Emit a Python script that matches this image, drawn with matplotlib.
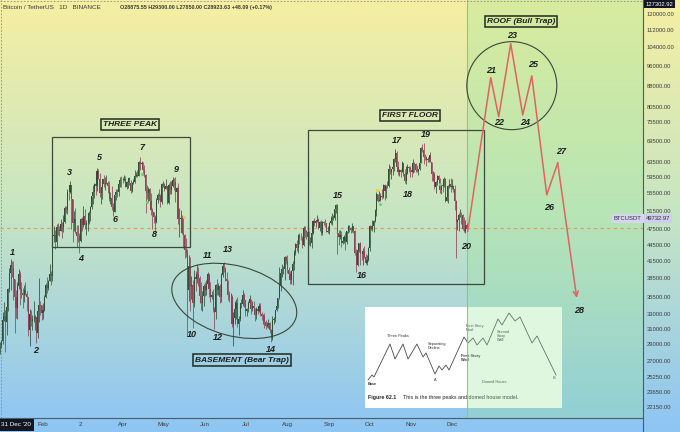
import numpy as np
import matplotlib
matplotlib.use("Agg")
import matplotlib.pyplot as plt
import matplotlib.transforms as mtransforms
from matplotlib.patches import Rectangle, Ellipse
from matplotlib.lines import Line2D
from matplotlib.colors import LinearSegmentedColormap
from matplotlib.ticker import NullLocator

plt.rcParams['font.family'] = ['Liberation Sans', 'DejaVu Sans']

# BTCUSDT daily candles, 31 Dec 2020 .. 12 Dec 2021 (prices in thousands)
# day index 0 = 31 Dec 2020, open of each day = previous close
first_open = 28.88
closes = [
    28.92,
    # Jan
    29.37, 32.13, 32.78, 31.97, 33.99, 36.82, 39.37, 40.80, 40.25, 38.36,
    35.57, 33.92, 37.32, 39.19, 36.83, 36.18, 35.79, 36.63, 36.07, 35.55,
    30.83, 33.01, 32.07, 32.29, 32.37, 32.57, 30.43, 33.47, 34.32, 34.27, 33.12,
    # Feb
    33.54, 35.51, 37.47, 36.93, 38.14, 39.27, 38.90, 46.20, 46.48, 44.92,
    47.97, 47.29, 47.15, 48.58, 47.91, 49.13, 52.12, 51.55, 55.91, 55.84,
    57.41, 54.09, 48.89, 49.68, 47.07, 46.28, 46.11, 45.14,
    # Mar
    49.59, 48.44, 50.35, 48.37, 48.75, 48.88, 50.97, 52.38, 54.88, 55.85,
    57.77, 57.22, 61.19, 58.97, 55.61, 56.90, 58.91, 57.65, 58.03, 58.10,
    57.35, 54.08, 54.34, 52.30, 51.29, 55.03, 55.82, 55.78, 57.64, 58.75, 58.74,
    # Apr
    58.72, 58.95, 57.05, 58.20, 59.13, 57.99, 55.95, 58.08, 58.14, 59.77,
    60.01, 59.86, 63.58, 62.96, 63.16, 61.33, 60.01, 56.15, 55.63, 56.43,
    53.79, 51.69, 51.13, 50.05, 49.01, 54.02, 55.03, 54.82, 53.56, 57.69,
    # May
    57.80, 56.58, 57.17, 53.20, 57.44, 56.39, 57.31, 58.86, 58.24, 55.82,
    56.67, 49.63, 49.67, 49.84, 46.76, 46.43, 43.54, 42.85, 36.69, 40.53,
    37.25, 37.45, 34.66, 38.80, 38.32, 39.24, 38.53, 35.66, 34.61, 35.64, 37.25,
    # Jun
    36.69, 37.57, 39.25, 36.83, 35.51, 35.80, 33.55, 33.38, 37.39, 36.69,
    37.31, 35.55, 39.02, 40.52, 40.14, 38.35, 38.09, 35.82, 35.48, 35.60,
    31.61, 32.51, 33.68, 34.66, 31.58, 32.28, 34.70, 34.49, 35.91, 35.05,
    # Jul
    33.50, 33.79, 34.67, 35.29, 33.69, 34.22, 33.86, 32.88, 33.82, 33.50,
    34.26, 33.09, 32.73, 32.82, 31.88, 31.38, 31.52, 31.78, 30.84, 29.79,
    32.14, 32.29, 33.63, 34.26, 35.41, 37.28, 39.46, 40.02, 40.02, 42.21, 41.46,
    # Aug
    39.85, 39.15, 38.21, 39.72, 40.87, 42.84, 44.61, 43.79, 46.29, 45.59,
    45.55, 44.43, 47.79, 47.10, 47.02, 45.94, 44.69, 44.74, 46.76, 49.34,
    48.91, 49.32, 49.55, 47.71, 48.99, 46.85, 49.08, 48.94, 48.82, 47.02, 47.17,
    # Sep
    48.85, 49.27, 49.94, 49.94, 51.76, 52.66, 46.86, 46.05, 46.40, 44.85,
    45.17, 46.03, 44.94, 47.11, 48.12, 47.74, 47.30, 48.29, 47.24, 42.84,
    40.69, 43.58, 44.90, 42.81, 42.67, 43.21, 42.24, 41.04, 41.57, 43.79,
    # Oct
    48.17, 47.64, 48.20, 49.23, 51.47, 55.32, 53.79, 53.95, 54.95, 54.66,
    57.47, 56.01, 57.37, 57.35, 61.67, 60.88, 61.53, 62.01, 64.28, 66.00,
    62.19, 60.69, 61.29, 60.85, 63.08, 60.33, 58.41, 60.58, 62.25, 61.86, 61.30,
    # Nov
    60.91, 63.22, 62.90, 61.40, 60.94, 61.47, 63.27, 67.53, 66.95, 64.88,
    64.77, 64.12, 64.38, 65.47, 63.56, 60.16, 60.37, 56.94, 58.12, 59.70,
    58.73, 56.29, 57.57, 57.16, 58.96, 53.73, 54.72, 57.27, 57.78, 56.95,
    # Dec
    57.18, 56.48, 53.60, 49.15, 49.40, 50.44, 50.59, 50.47, 47.55, 47.14,
    48.40, 47.60,
]
highs = [
    29.30,
    29.6, 33.3, 34.8, 33.6, 34.4, 36.9, 40.2, 41.9, 41.4, 41.4,
    38.3, 36.6, 37.9, 40.1, 39.8, 37.9, 36.9, 37.4, 37.9, 36.4,
    35.6, 33.8, 33.6, 32.9, 34.9, 32.9, 32.6, 33.8, 38.5, 34.9, 34.3,
    34.7, 35.9, 37.7, 38.7, 38.3, 40.9, 39.7, 46.8, 48.2, 47.3,
    48.6, 48.9, 48.3, 49.7, 49.0, 50.5, 52.6, 52.5, 56.4, 57.5,
    58.4, 57.5, 54.2, 51.4, 52.0, 48.4, 48.4, 46.7,
    49.8, 50.2, 52.6, 51.8, 49.5, 49.2, 51.5, 52.5, 54.9, 57.4,
    58.1, 58.0, 61.8, 61.6, 60.6, 56.9, 58.9, 60.1, 59.5, 59.9,
    58.6, 58.4, 55.9, 57.2, 53.3, 55.1, 56.6, 56.6, 58.4, 59.4, 59.8,
    59.5, 60.0, 59.8, 58.5, 59.3, 59.5, 58.7, 58.2, 58.9, 61.3,
    60.7, 61.2, 63.8, 64.9, 63.8, 63.6, 62.6, 60.4, 57.6, 57.1,
    56.8, 55.5, 52.1, 51.2, 50.6, 54.4, 55.5, 56.4, 55.2, 58.0,
    58.5, 57.9, 58.9, 57.2, 57.9, 58.4, 58.6, 59.5, 59.3, 59.6,
    56.9, 58.0, 52.0, 51.6, 50.6, 49.8, 46.6, 45.8, 43.6, 42.5,
    42.2, 38.9, 38.3, 39.9, 39.8, 40.9, 40.4, 38.9, 37.9, 36.5, 37.5,
    37.9, 38.2, 39.5, 39.3, 37.9, 36.5, 36.8, 34.1, 37.5, 38.4,
    37.7, 37.5, 39.4, 41.1, 41.3, 40.5, 39.6, 38.2, 36.4, 36.1,
    35.8, 33.3, 34.9, 35.3, 35.5, 32.7, 34.7, 35.3, 36.6, 36.1,
    35.0, 33.9, 34.9, 35.9, 35.3, 35.0, 35.0, 33.9, 34.1, 34.2,
    34.6, 34.7, 33.3, 33.1, 33.2, 32.2, 31.9, 32.4, 31.9, 31.0,
    32.8, 32.6, 33.6, 34.5, 35.4, 40.5, 39.5, 40.9, 40.6, 42.3, 42.4,
    42.6, 40.5, 39.8, 39.9, 41.4, 43.4, 44.8, 45.3, 46.5, 46.7,
    46.8, 46.2, 48.2, 48.2, 47.4, 48.1, 47.2, 46.0, 47.0, 49.4,
    49.8, 49.5, 50.5, 49.9, 49.2, 49.4, 49.2, 49.3, 49.6, 48.9, 48.3,
    49.0, 50.4, 51.0, 50.6, 51.9, 52.9, 52.9, 47.4, 47.3, 47.1,
    45.9, 46.4, 46.9, 47.2, 48.4, 48.5, 48.1, 48.8, 48.3, 47.3,
    43.6, 44.0, 44.9, 45.1, 42.9, 43.9, 44.3, 42.8, 42.6, 44.1,
    48.5, 48.3, 49.5, 49.5, 51.9, 55.8, 55.3, 56.1, 55.5, 56.6,
    57.8, 57.7, 57.6, 58.5, 62.9, 62.4, 61.7, 62.6, 64.5, 67.0,
    66.6, 63.7, 61.7, 61.5, 63.7, 63.3, 61.5, 62.5, 62.9, 62.3, 62.4,
    62.4, 64.3, 63.5, 63.1, 62.6, 61.6, 63.3, 67.8, 68.5, 69.0,
    65.6, 65.0, 64.9, 65.5, 66.3, 63.6, 61.0, 60.8, 58.4, 59.9,
    60.0, 59.3, 58.0, 57.9, 59.4, 59.2, 55.3, 57.4, 58.9, 59.2,
    59.0, 57.4, 57.6, 53.9, 49.7, 51.0, 51.9, 51.2, 50.8, 50.1,
    49.5, 48.9,
]
lows = [
    27.85,
    28.6, 29.0, 32.0, 28.1, 30.2, 33.4, 36.3, 36.6, 38.7, 35.1,
    30.4, 32.5, 32.4, 36.7, 34.4, 35.4, 33.9, 34.8, 35.8, 33.4,
    30.1, 28.8, 31.4, 30.9, 31.9, 30.8, 29.2, 29.8, 31.9, 32.9, 32.2,
    32.3, 33.4, 35.4, 36.2, 36.6, 38.1, 37.4, 38.1, 45.0, 43.7,
    44.1, 46.4, 46.2, 47.1, 45.8, 47.0, 48.9, 50.9, 50.7, 53.9,
    55.5, 47.6, 45.0, 47.2, 46.7, 44.1, 45.1, 43.0,
    45.0, 47.1, 48.1, 47.5, 46.3, 47.1, 48.6, 49.3, 51.8, 53.0,
    54.3, 55.0, 56.1, 58.9, 54.6, 53.1, 54.1, 57.0, 56.3, 57.8,
    55.5, 53.6, 53.0, 51.7, 50.4, 51.3, 53.9, 54.7, 54.9, 57.0, 56.9,
    57.9, 58.4, 56.9, 56.5, 56.8, 57.4, 55.5, 55.7, 57.7, 57.9,
    59.4, 59.4, 59.8, 61.3, 62.0, 60.0, 59.6, 51.0, 54.2, 53.4,
    53.6, 50.6, 47.5, 48.8, 47.0, 48.8, 53.2, 53.9, 52.4, 53.1,
    57.0, 56.0, 56.5, 53.0, 52.9, 55.2, 55.4, 56.9, 56.2, 53.4,
    54.4, 48.6, 46.0, 48.8, 46.6, 43.8, 42.1, 42.2, 30.0, 34.9,
    33.5, 35.2, 31.1, 34.0, 36.4, 37.8, 37.2, 34.7, 33.6, 33.4, 34.2,
    35.7, 35.9, 37.2, 35.6, 34.8, 35.3, 33.3, 31.0, 32.4, 35.8,
    35.9, 34.6, 34.8, 38.8, 39.5, 38.1, 37.4, 35.1, 34.8, 33.3,
    31.3, 28.8, 31.7, 32.3, 31.3, 30.2, 32.0, 33.9, 34.2, 34.0,
    32.7, 32.7, 33.3, 34.5, 33.1, 33.5, 33.7, 32.1, 32.3, 33.0,
    33.3, 32.7, 32.2, 31.6, 31.1, 31.0, 31.2, 31.1, 30.4, 29.3,
    29.5, 31.7, 31.9, 33.4, 33.9, 35.2, 36.4, 38.8, 39.2, 38.3, 41.0,
    39.4, 38.7, 37.6, 37.5, 37.4, 39.9, 42.5, 43.3, 42.9, 44.7,
    45.4, 43.8, 44.2, 45.9, 45.5, 45.7, 44.4, 44.2, 43.9, 46.6,
    48.3, 48.1, 49.0, 47.6, 47.2, 46.3, 46.4, 48.4, 48.0, 46.9, 46.7,
    46.5, 48.6, 48.4, 49.5, 49.4, 50.9, 42.8, 44.4, 45.5, 44.1,
    44.7, 44.8, 43.4, 44.7, 46.7, 47.0, 46.7, 47.0, 46.8, 42.5,
    39.6, 40.6, 43.1, 40.8, 41.7, 40.8, 42.1, 40.9, 40.8, 41.4,
    43.3, 47.4, 47.1, 46.9, 49.1, 50.4, 53.4, 53.6, 53.7, 54.1,
    54.4, 53.9, 54.3, 56.8, 56.9, 60.2, 58.9, 60.1, 61.1, 63.5,
    62.0, 60.0, 59.7, 59.5, 60.7, 59.8, 58.0, 57.8, 60.2, 60.7, 59.6,
    59.4, 60.6, 60.8, 60.7, 60.7, 60.1, 61.3, 63.3, 66.2, 62.8,
    64.1, 62.3, 63.6, 63.6, 63.4, 58.6, 58.4, 56.5, 55.6, 57.4,
    58.5, 55.6, 55.3, 55.9, 57.0, 53.5, 53.7, 53.3, 56.7, 55.9,
    56.5, 55.8, 51.7, 42.0, 47.3, 47.1, 50.1, 48.6, 47.3, 46.9,
    46.7, 47.2,
]

month_ticks = [32, 60, 91, 121, 152, 182, 213, 244, 274, 305, 335]
month_labels = ['Feb', '2', 'Apr', 'May', 'Jun', 'Jul', 'Aug', 'Sep', 'Oct', 'Nov', 'Dec']
price_ticks = [120000, 112000, 104000, 96000, 88000, 80500, 75500, 69500, 63500,
               59500, 55500, 51500, 47500, 44500, 41500, 38500, 35500, 33000,
               31000, 29000, 27000, 25250, 23650, 22150]
last_price = 49732.97
crosshair_price = 127302.92
hline_price = 47850

# wave count labels 1..28 (day index, price in thousands)
wave_x = [9.6, 26.7, 51.9, 60.0, 74.1, 85.2, 105.2, 114.8, 131.1, 142.2,
          154.1, 161.5, 168.9, 200.7, 250.4, 268.1, 294.1, 302.2, 315.6, 345.2,
          363.7, 369.6, 379.3, 388.9, 394.8, 406.7, 415.6, 428.9]
wave_y = [43.0, 28.2, 60.8, 41.9, 64.6, 49.5, 67.5, 46.4, 61.4, 30.2,
          42.4, 29.9, 43.5, 28.4, 54.9, 38.9, 69.5, 55.3, 71.4, 44.1,
          94.0, 75.1, 109.2, 75.1, 96.5, 52.3, 66.4, 33.6]

# projected path 20 -> 28
proj_x = [346.7, 363.7, 369.6, 378.5, 387.4, 394.1, 405.2, 413.3, 427.4]
proj_y = [47.2, 91.2, 77.1, 105.5, 77.7, 91.9, 55.1, 63.2, 35.4]

# indicator dots
yellow_x = [136.3, 279.3]
yellow_y = [50.1, 56.3]
green_x = [105.0, 109.4, 281.5, 326.0]
green_y = [60.4, 53.5, 53.0, 57.8]

# the "three peaks and domed house" sketch (own units, 197 x 101)
inset_x = [3, 7, 9, 25, 30, 38, 43, 52, 58, 61, 70, 74, 77, 81, 84, 99, 103,
           108, 112, 118, 122, 133, 137, 144, 150, 155, 167, 172, 191]
inset_y = [28, 33, 31, 64, 49, 64, 49, 64, 51, 55, 34, 42, 38, 43, 38, 71, 65,
           70, 63, 70, 63, 89, 83, 95, 87, 91, 65, 72, 33]

UP = '#2f4f37'
DOWN = '#8e4358'
RED = '#e2625f'
INK = '#1c1f1c'

fig = plt.figure(figsize=(6.8, 4.32), dpi=100)

# gradient backdrop
bg = fig.add_axes([0, 0, 1, 1], zorder=-1)
cmap = LinearSegmentedColormap.from_list('tv', ['#f5efa2', '#c6e5c4', '#8dc5f4'])
bg.imshow(np.linspace(0, 1, 256).reshape(-1, 1), aspect='auto', cmap=cmap,
          extent=[0, 1, 0, 1])
bg.axis('off')

ax = fig.add_axes([0, 14 / 432, 643 / 680, 418 / 432])
ax.set_facecolor('none')
ax.set_yscale('log')
ax.set_xlim(0.14, 476.5)
ax.set_ylim(21130, crosshair_price)

# candles
c = np.array(closes) * 1000
o = np.concatenate([[first_open], closes[:-1]]) * 1000
h = np.maximum(np.array(highs) * 1000, np.maximum(o, c))
l = np.minimum(np.array(lows) * 1000, np.minimum(o, c))
days = np.arange(len(c))
col = np.where(c >= o, UP, DOWN)
ax.vlines(days, l, h, colors=col, lw=0.55, zorder=3)
ax.bar(days, np.abs(c - o), bottom=np.minimum(o, c), width=0.8, color=col,
       lw=0, zorder=3)
ax.scatter(yellow_x, np.array(yellow_y) * 1000, s=5, color='#f2c744', zorder=4, lw=0)
ax.scatter(green_x, np.array(green_y) * 1000, s=5, color='#6fd36f', zorder=4, lw=0)

# green future zone
ax.axvspan(proj_x[0] - 0.6, 476.5, color='#96e596', alpha=0.3, lw=0, zorder=1.5)
ax.axvline(proj_x[0] - 0.6, color='#7fcf7f', lw=0.8, zorder=1.6)

# current price line
ax.axhline(hline_price, color='#e59a55', lw=0.8, ls=(0, (3, 3)), zorder=2)

# crosshair at top-left
ax.plot([0, 1], [0.997, 0.997], transform=ax.transAxes, color='#8c8c8c',
        lw=0.6, ls=(0, (2, 2)), zorder=2)
ax.plot([0.002, 0.002], [0, 1], transform=ax.transAxes, color='#8c8c8c',
        lw=0.6, ls=(0, (2, 2)), zorder=2)

# zone boxes
box_kw = dict(fill=False, ec='#3b4a3d', lw=0.9, zorder=4)
ax.add_patch(Rectangle((38.5, 44100), 140.7 - 38.5, 70700 - 44100, **box_kw))
ax.add_patch(Rectangle((228, 37600), 359 - 228, 72900 - 37600, **box_kw))

disp = mtransforms.IdentityTransform()
ell_kw = dict(fill=False, ec='#3b463b', lw=0.8, zorder=4, transform=disp)
ax.add_patch(Ellipse(ax.transData.transform((173.7, 34950)), 128, 70, angle=-15, **ell_kw))
ax.add_patch(Ellipse(ax.transData.transform((379.3, 88100)), 90, 88, angle=0, **ell_kw))

tag_kw = dict(ha='center', va='center', fontsize=6, fontweight='bold',
              fontstyle='italic', color=INK, zorder=6,
              bbox=dict(boxstyle='square,pad=0.25', fc='none', ec='#1f2b20', lw=1.1))
ax.text(96.3, 74500, 'THREE PEAK', **tag_kw)
ax.text(179.3, 27100, 'BASEMENT (Bear Trap)', **tag_kw)
ax.text(303.7, 77500, 'FIRST FLOOR', **tag_kw)
ax.text(386.0, 115900, 'ROOF (Bull Trap)', **tag_kw)

for i, (x, y) in enumerate(zip(wave_x, wave_y)):
    ax.text(x, y * 1000, str(i + 1), ha='center', va='center', fontsize=6.5,
            fontweight='bold', fontstyle='italic', color=INK, zorder=6)

# projection path
ax.plot(proj_x[:-1], np.array(proj_y[:-1]) * 1000, color=RED, lw=1.1, zorder=5)
ax.annotate('', xy=(proj_x[-1], proj_y[-1] * 1000),
            xytext=(proj_x[-2], proj_y[-2] * 1000),
            arrowprops=dict(arrowstyle='->', color=RED, lw=1.1, shrinkA=0,
                            shrinkB=0, mutation_scale=9), zorder=5)

# inset figure
ibox = mtransforms.Bbox.from_bounds(365 / 643, 10 / 418, 197 / 643, 101 / 418)
itr = mtransforms.Affine2D().scale(1 / 197, 1 / 101) + \
    mtransforms.BboxTransformTo(ibox) + ax.transAxes
ax.add_patch(Rectangle((0, 0), 197, 101, transform=itr, fc='white', ec='none', zorder=1))
ax.plot(inset_x, inset_y, transform=itr, color='#4a4a4a', lw=0.6, zorder=1.2)
small = dict(transform=itr, fontsize=2.8, color='#333333', zorder=1.3, linespacing=1.0)
ax.text(33, 72, 'Three Peaks', ha='center', va='center', **small)
ax.text(63, 62, 'Separating\nDecline', ha='left', va='center', **small)
ax.text(3, 24, 'Base', ha='left', va='center', fontweight='bold', **small)
ax.text(70, 28, 'A', ha='center', va='center', **small)
ax.text(96, 50, 'First Story\nWall', ha='left', va='center', fontweight='bold', **small)
ax.text(101, 80, 'First Story\nRoof', ha='left', va='center', **small)
ax.text(132, 72, 'Second\nStory\nWall', ha='left', va='center', **small)
ax.text(129, 26, 'Domed House', ha='center', va='center', **small)
ax.text(189, 30, 'B', ha='center', va='center', **small)
ax.text(3, 11, 'Figure 62.1', ha='left', va='center', transform=itr, fontsize=3.8,
        fontweight='bold', color='#222222', zorder=1.3)
ax.text(38, 11, 'This is the three peaks and domed house model.', ha='left',
        va='center', transform=itr, fontsize=3.8, color='#222222', zorder=1.3)

# axes styling
ax.yaxis.tick_right()
ax.set_yticks(price_ticks)
ax.set_yticklabels([f'{p:.2f}' for p in price_ticks])
ax.yaxis.set_minor_locator(NullLocator())
ax.tick_params(axis='y', length=0, pad=2.5, labelsize=4.2, labelcolor='#3c3c3c')
ax.set_xticks(month_ticks)
ax.set_xticklabels(month_labels)
ax.tick_params(axis='x', length=0, pad=3, labelsize=4.5, labelcolor='#3c3c3c')
for side in ['top', 'left']:
    ax.spines[side].set_visible(False)
for side in ['right', 'bottom']:
    ax.spines[side].set_color('#4d5a66')
    ax.spines[side].set_linewidth(0.8)
fig.add_artist(Line2D([643 / 680] * 2, [0, 14 / 432], transform=fig.transFigure,
                      color='#4d5a66', lw=0.8))

# price labels on the scale
mix = mtransforms.blended_transform_factory(ax.transAxes, ax.transData)
ax.text(0.998, last_price, 'BTCUSDT', transform=mix, ha='right', va='center',
        fontsize=4.2, color='#2a2a3a', zorder=7,
        bbox=dict(boxstyle='square,pad=0.35', fc='#d6d4ee', ec='none'))
ax.text(1.004, last_price, f'{last_price:.2f}', transform=mix, ha='left',
        va='center', fontsize=4.2, color='#2a2a3a', zorder=7, clip_on=False,
        bbox=dict(boxstyle='square,pad=0.35', fc='#cfcdea', ec='none'))
ax.text(1.004, 0.996, f'{crosshair_price:.2f}', transform=ax.transAxes, ha='left',
        va='top', fontsize=4.2, color='white', zorder=7, clip_on=False,
        bbox=dict(boxstyle='square,pad=0.3', fc='#131722', ec='none'))
fig.text(16 / 680, 7 / 432, "31 Dec '20", ha='center', va='center', fontsize=4.5,
         color='white', bbox=dict(boxstyle='square,pad=0.55', fc='#131722', ec='none'))

# header
fig.text(0.004, 0.983, 'Bitcoin / TetherUS   1D   BINANCE', ha='left', va='center',
         fontsize=4.6, color='#3a3a3a')
fig.text(0.176, 0.983, 'O28875.55 H29300.00 L27850.00 C28923.63 +48.09 (+0.17%)',
         ha='left', va='center', fontsize=3.9, fontweight='bold', color='#3a3a3a')

fig.savefig('out.png', dpi=100)
